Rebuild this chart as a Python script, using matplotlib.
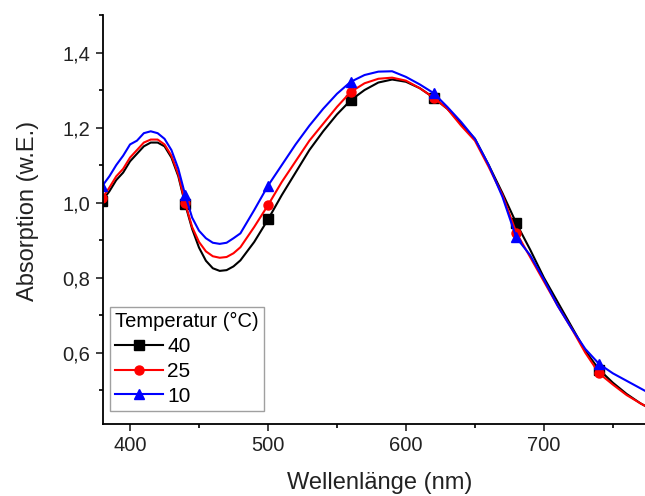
import matplotlib
matplotlib.use("Agg")
import matplotlib.pyplot as plt
from matplotlib.ticker import MultipleLocator, FuncFormatter

plt.rcParams['font.family'] = ['Liberation Sans', 'DejaVu Sans']

# Wellenlänge (nm)
wl = [380, 385, 390, 395, 400, 405, 410, 415, 420, 425, 430, 435, 440, 445,
      450, 455, 460, 465, 470, 475, 480, 490, 500, 510, 520, 530, 540, 550,
      560, 570, 580, 590, 600, 610, 620, 630, 640, 650, 660, 670, 680, 690,
      700, 710, 720, 730, 740, 750, 760, 770, 775]

t40 = [1.005, 1.03, 1.06, 1.08, 1.11, 1.13, 1.15, 1.16, 1.16, 1.15, 1.12, 1.07,
       0.995, 0.93, 0.88, 0.845, 0.825, 0.818, 0.82, 0.83, 0.846, 0.895, 0.955,
       1.02, 1.08, 1.14, 1.19, 1.235, 1.273, 1.30, 1.32, 1.328, 1.322, 1.305,
       1.28, 1.25, 1.21, 1.17, 1.10, 1.025, 0.945, 0.875, 0.80, 0.735, 0.67,
       0.605, 0.555, 0.52, 0.49, 0.465, 0.455]

t25 = [1.012, 1.04, 1.07, 1.09, 1.12, 1.14, 1.16, 1.168, 1.168, 1.155, 1.125,
       1.075, 0.998, 0.935, 0.895, 0.87, 0.857, 0.853, 0.855, 0.865, 0.881,
       0.935, 0.993, 1.055, 1.11, 1.165, 1.21, 1.255, 1.295, 1.318, 1.33, 1.333,
       1.325, 1.305, 1.28, 1.25, 1.205, 1.165, 1.095, 1.02, 0.92, 0.855, 0.79,
       0.725, 0.665, 0.60, 0.545, 0.515, 0.487, 0.465, 0.455]

t10 = [1.045, 1.07, 1.10, 1.125, 1.155, 1.165, 1.185, 1.19, 1.185, 1.17, 1.14,
       1.09, 1.02, 0.96, 0.925, 0.905, 0.893, 0.89, 0.893, 0.905, 0.918, 0.98,
       1.045, 1.10, 1.155, 1.205, 1.25, 1.29, 1.322, 1.34, 1.349, 1.35, 1.335,
       1.315, 1.292, 1.255, 1.215, 1.17, 1.10, 1.015, 0.907, 0.86, 0.795, 0.725,
       0.665, 0.61, 0.57, 0.545, 0.525, 0.505, 0.495]

marker_wl = [380, 440, 500, 560, 620, 680, 740]
mark_idx = [wl.index(w) for w in marker_wl]

fig = plt.figure(figsize=(6.45, 4.96), dpi=100)
ax = fig.add_axes([0.1597, 0.1452, 0.8403, 0.8246])

ax.plot(wl, t40, color='black', marker='s', ms=6.5, lw=1.5, markevery=mark_idx, label='40')
ax.plot(wl, t25, color='red', marker='o', ms=6.5, lw=1.5, markevery=mark_idx, label='25')
ax.plot(wl, t10, color='blue', marker='^', ms=7, lw=1.5, markevery=mark_idx, label='10')

ax.set_xlim(380.4, 773.3)
ax.set_ylim(0.41, 1.5)
ax.xaxis.set_major_locator(MultipleLocator(100))
ax.xaxis.set_minor_locator(MultipleLocator(50))
ax.yaxis.set_major_locator(MultipleLocator(0.2))
ax.yaxis.set_minor_locator(MultipleLocator(0.1))
ax.yaxis.set_major_formatter(FuncFormatter(lambda v, p: f"{v:.1f}".replace('.', ',')))

ax.spines['top'].set_visible(False)
ax.spines['right'].set_visible(False)
ax.spines['left'].set_linewidth(1.3)
ax.spines['bottom'].set_linewidth(1.3)
ax.tick_params(which='major', direction='out', length=5, width=1.2, labelsize=14.5,
               colors='#222222', pad=4)
ax.tick_params(which='minor', direction='out', length=3, width=1.2)

ax.set_xlabel('Wellenlänge (nm)', fontsize=17, color='#222222', labelpad=12)
ax.set_ylabel('Absorption (w.E.)', fontsize=17, color='#222222', labelpad=17)
ax.xaxis.label.set_x(0.511)
ax.yaxis.label.set_y(0.52)

leg = ax.legend(title='Temperatur (°C)', loc='lower left', bbox_to_anchor=(0.013, 0.032),
                borderaxespad=0, fontsize=15, title_fontsize=14.5, frameon=True,
                fancybox=False, handlelength=2.3, handletextpad=0.2, labelspacing=0.28,
                borderpad=0.25)
leg._legend_box.align = 'left'
leg.get_frame().set_edgecolor('#888888')
leg.get_frame().set_linewidth(1.0)

fig.savefig('out.png', dpi=100)
